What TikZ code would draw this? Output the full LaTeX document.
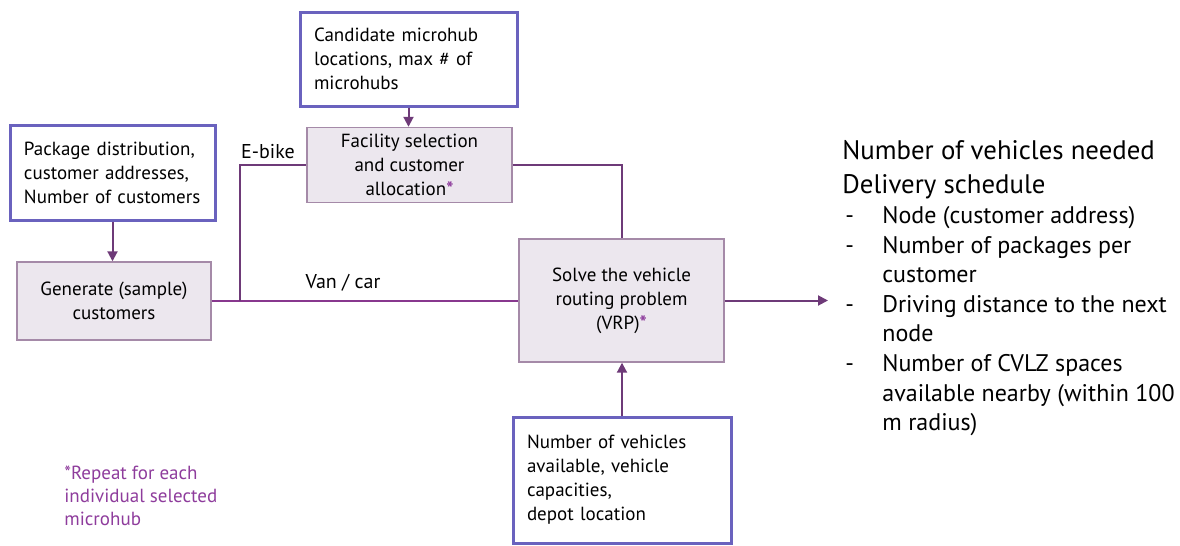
\documentclass[tikz,border=0pt]{standalone}
\usepackage{fontspec}
\setmainfont{PT Sans}
\usetikzlibrary{arrows.meta,positioning}
\definecolor{linkpurple}{HTML}{6E3A78}
\definecolor{vanpurple}{HTML}{88388E}
\definecolor{inblue}{HTML}{6A62BE}
\definecolor{stepfill}{HTML}{ECE7EE}
\definecolor{stepedge}{HTML}{A58AA8}
\definecolor{notepurple}{HTML}{8E3C9C}
\newcommand{\rep}{{\color{notepurple}\textbf{*}}}
\newcommand{\dashitem}{\makebox[18.5pt][l]{-}}
\begin{document}
\begin{tikzpicture}[x=0.5pt,y=-0.5pt,
  inbox/.style={shape=rectangle, draw=inblue, line width=1.5pt, align=left, inner xsep=7pt, font=\fontsize{9.5}{12}\selectfont},
  stepbox/.style={shape=rectangle, draw=stepedge, fill=stepfill, line width=0.7pt, align=center, font=\fontsize{9.5}{12}\selectfont},
  link/.style={draw=linkpurple, line width=1pt},
  tip/.style={-{Triangle[length=5pt,width=5pt]}},
  lbl/.style={font=\fontsize{10}{12}\selectfont, inner sep=0pt}]
\useasboundingbox (0,0) rectangle (1180,546);
\node[inbox, text width=94.5pt, minimum height=47pt] (cand) at (408.5,59) {Candidate microhub\\ locations, max \# of\\ microhubs};
\node[inbox, text width=88.5pt, minimum height=47.5pt] (pkg) at (112.5,172.5) {Package distribution,\\ customer addresses,\\ Number of customers};
\node[inbox, text width=95pt, minimum height=63pt] (veh) at (622,480) {Number of vehicles\\ available, vehicle\\ capacities,\\ depot location};
\node[stepbox, minimum width=102.5pt, minimum height=37pt] (fac) at (409.5,165) {Facility selection\\ and customer\\ allocation\rep};
\node[stepbox, minimum width=97pt, minimum height=39pt] (gen) at (114,301) {Generate (sample)\\ customers};
\node[stepbox, minimum width=102.5pt, minimum height=61.5pt] (solve) at (621.5,300.5) {Solve the vehicle\\ routing problem\\ (VRP)\rep};
\node[lbl] (ebike) at (268,152) {E-bike};
\node[lbl] (van) at (343,283) {Van / car};
\node[align=left, anchor=north west, inner sep=0pt, font=\fontsize{13.4}{17}\selectfont] (head) at (842,140) {Number of vehicles needed\\ Delivery schedule};
\node[align=left, anchor=north west, inner sep=0pt, font=\fontsize{12}{14.8}\selectfont] (items) at (845,206) {\dashitem Node (customer address)\\ \dashitem Number of packages per\\ \hspace*{18.5pt}customer\\ \dashitem Driving distance to the next\\ \hspace*{18.5pt}node\\ \dashitem Number of CVLZ spaces\\ \hspace*{18.5pt}available nearby (within 100\\ \hspace*{18.5pt}m radius)};
\node[align=left, anchor=north west, inner sep=0pt, text=notepurple, font=\fontsize{9.5}{11.5}\selectfont] (note) at (64,466) {*Repeat for each\\ individual selected\\ microhub};
\coordinate (split) at (240,301);
\coordinate (outend) at (828,300.5);
\draw[link, tip] (pkg.south) -- (pkg.south |- gen.north);
\draw[link, tip] (cand.south) -- (cand.south |- fac.north);
\draw[link, draw=vanpurple] (gen.east) -- (gen.east -| solve.west);
\draw[link] (split) |- (fac.west);
\draw[link] (fac.east) -| (solve.north);
\draw[link, tip] (veh.north) -- (veh.north |- solve.south);
\draw[link, tip] (solve.east) -- (outend);
\end{tikzpicture}
\end{document}
